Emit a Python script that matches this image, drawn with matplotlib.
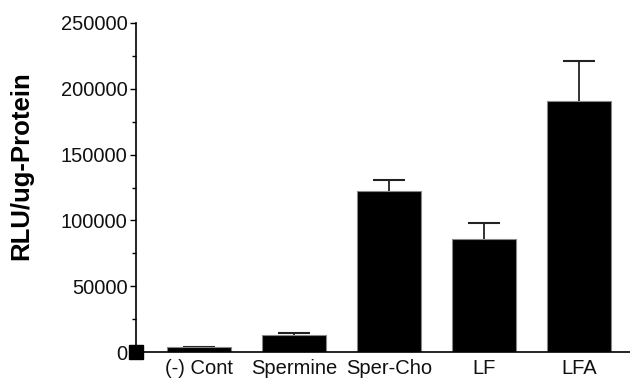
import matplotlib.pyplot as plt
from matplotlib.ticker import MultipleLocator

groups = ['(-) Cont', 'Spermine', 'Sper-Cho', 'LF', 'LFA']
rlu = [4000, 12900, 122600, 86100, 190700]
err = [0, 1300, 8100, 12200, 30400]

plt.rcParams['font.family'] = ['Liberation Sans', 'DejaVu Sans']

fig = plt.figure(figsize=(6.3, 3.8), dpi=100)
ax = fig.add_axes([136 / 630, 28 / 380, 494 / 630, 329 / 380])

x = list(range(len(groups)))
ax.bar(x, rlu, width=0.675, color='black', edgecolor='#888888', linewidth=0.8, zorder=2)

# upper error only: stem + one cap
tops = [v + e for v, e in zip(rlu, err)]
ax.vlines(x, rlu, tops, color='#222222', linewidth=1.3, zorder=1)
ax.hlines(tops, [i - 0.165 for i in x], [i + 0.165 for i in x], color='#222222',
          linewidth=1.5, zorder=1)

ax.set_xlim(-0.663, 4.537)
ax.set_ylim(0, 250000)
ax.yaxis.set_major_locator(MultipleLocator(50000))
ax.yaxis.set_minor_locator(MultipleLocator(25000))
ax.set_xticks(x)
ax.set_xticklabels(groups, fontsize=14.5, color='#111111')
ax.tick_params(axis='x', length=0, pad=5)
ax.tick_params(axis='y', which='major', length=4, width=1, pad=2, labelsize=14.5, labelcolor='#111111')
ax.tick_params(axis='y', which='minor', length=3, width=1)

for side in ['top', 'right']:
    ax.spines[side].set_visible(False)
for side in ['left', 'bottom']:
    ax.spines[side].set_linewidth(1.2)

fig.text(21 / 630, 1 - 166 / 380, 'RLU/ug-Protein', fontsize=18.5, fontweight='bold',
         rotation=90, ha='center', va='center')

# little black square drawn at the origin
ax.plot([0], [0], marker='s', markersize=10, color='black', transform=ax.transAxes,
        clip_on=False, zorder=5)

fig.savefig('out.png', dpi=100)
